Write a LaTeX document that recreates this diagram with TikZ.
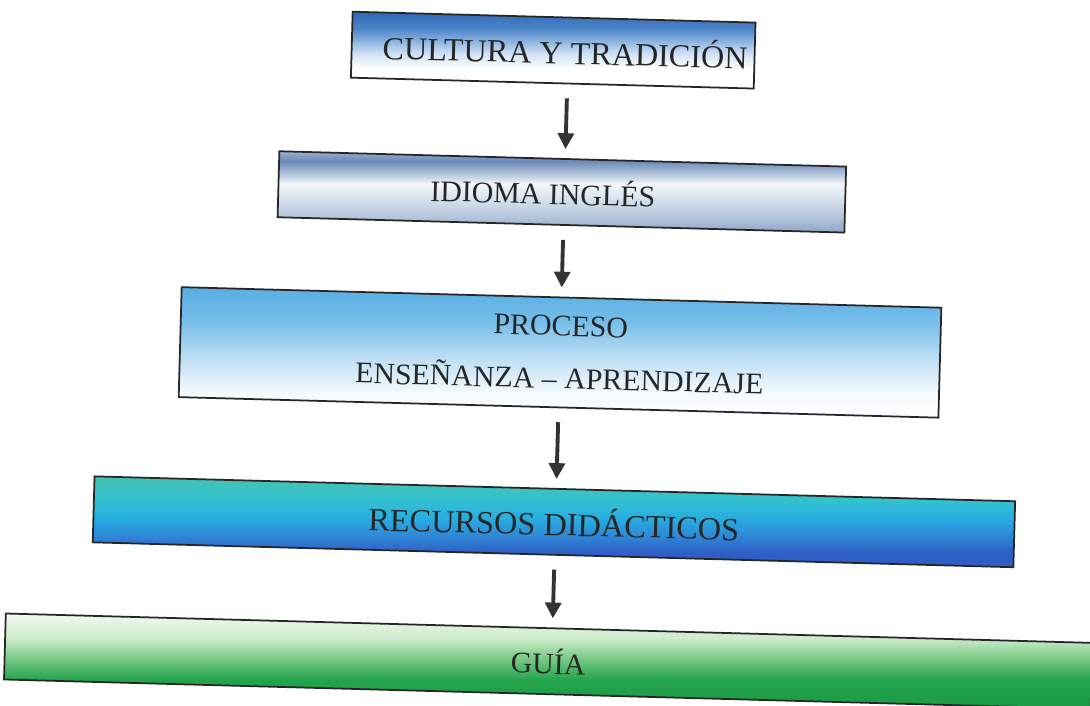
\documentclass[tikz,border=0pt]{standalone}
\usepackage{fontspec}
\setmainfont{Liberation Serif}
\usetikzlibrary{positioning,arrows.meta}

\definecolor{cultblue}{HTML}{2E68B3}
\definecolor{cultdeep}{HTML}{4D86C9}
\definecolor{cultmid}{HTML}{8AB3E0}
\definecolor{cultpale}{HTML}{CFE0F3}
\definecolor{steellow}{HTML}{8EA7C8}
\definecolor{steelpale}{HTML}{B5C6DC}
\definecolor{steellight}{HTML}{DFE7F1}
\definecolor{steelwhite}{HTML}{F3F6FA}
\definecolor{steelmid}{HTML}{A9BDD6}
\definecolor{steeldark}{HTML}{6A8BB5}
\definecolor{steeltop}{HTML}{9AB0CF}
\definecolor{skypale}{HTML}{F3F9FD}
\definecolor{skylight}{HTML}{B4DAF3}
\definecolor{skymid}{HTML}{74BDE9}
\definecolor{skytop}{HTML}{5AAEE4}
\definecolor{recblue}{HTML}{2F5FC6}
\definecolor{recmid}{HTML}{2F86D6}
\definecolor{reccyan}{HTML}{27ADE0}
\definecolor{recaqua}{HTML}{33C2D0}
\definecolor{recteal}{HTML}{45C2B0}
\definecolor{guiadark}{HTML}{1C9A45}
\definecolor{guiagreen}{HTML}{22A34C}
\definecolor{guiamid}{HTML}{7CCB88}
\definecolor{guiapale}{HTML}{CDEBCB}
\definecolor{guiatop}{HTML}{F1F9EF}

\pgfdeclareverticalshading{culturashade}{100bp}{color(0bp)=(white); color(25bp)=(white); color(38bp)=(white); color(48bp)=(cultpale); color(56bp)=(cultmid); color(64bp)=(cultdeep); color(75bp)=(cultblue); color(100bp)=(cultblue)}
\pgfdeclareverticalshading{idiomashade}{100bp}{color(0bp)=(steellow); color(25bp)=(steellow); color(35bp)=(steelpale); color(48bp)=(steellight); color(55bp)=(steelwhite); color(62bp)=(steelmid); color(69bp)=(steeldark); color(75bp)=(steeltop); color(100bp)=(steeltop)}
\pgfdeclareverticalshading{procesoshade}{100bp}{color(0bp)=(white); color(25bp)=(white); color(35bp)=(skypale); color(50bp)=(skylight); color(62bp)=(skymid); color(75bp)=(skytop); color(100bp)=(skytop)}
\pgfdeclareverticalshading{recursoshade}{100bp}{color(0bp)=(recblue); color(25bp)=(recblue); color(33bp)=(recblue); color(42bp)=(recmid); color(52bp)=(reccyan); color(62bp)=(recaqua); color(75bp)=(recteal); color(100bp)=(recteal)}
\pgfdeclareverticalshading{guiashade}{100bp}{color(0bp)=(guiadark); color(25bp)=(guiadark); color(40bp)=(guiagreen); color(52bp)=(guiamid); color(62bp)=(guiapale); color(75bp)=(guiatop); color(100bp)=(guiatop)}

\tikzset{main node/.style={rectangle,draw=black!85,line width=1pt,shade,minimum height=1.32cm,inner sep=0pt,text=black!85,font=\fontsize{17}{30}\selectfont,align=center},
  link/.style={line width=2.2pt,black!80,-{Triangle[length=9pt,width=9pt]},shorten <=0.28cm,shorten >=0.18cm},}

\begin{document}
\begin{tikzpicture}
    \useasboundingbox (0,0) rectangle (21.8,-14.12);
    \begin{scope}[rotate around={-1.55:(10.9,-7.06)},transform shape]
    \node[main node,shading=culturashade,minimum width=8.06cm,font=\fontsize{18.3}{30}\selectfont] (1) at (10.9,-1.0) {\hspace{0.48cm}CULTURA Y TRADICIÓN};
    \node[main node,shading=idiomashade,minimum width=11.34cm] (2) at (11.15,-3.83) {IDIOMA INGLÉS\hspace{0.76cm}};
    \node[main node,shading=procesoshade,minimum width=15.2cm,minimum height=2.2cm] (3) at (11.2,-7.04) {PROCESO\\ENSEÑANZA – APRENDIZAJE};
    \node[main node,shading=recursoshade,minimum width=18.42cm,font=\fontsize{18.4}{30}\selectfont] (4) at (11.17,-10.43) {RECURSOS DIDÁCTICOS};
    \node[main node,shading=guiashade,minimum width=21.74cm] (5) at (11.13,-13.22) {GUÍA};

    \path[link]
    (1.south -| 3.center) edge (2.north -| 3.center)
    (2.south -| 3.center) edge (3.north)
    (3.south) edge (4.north -| 3.center)
    (4.south -| 3.center) edge (5.north -| 3.center);
    \end{scope}
\end{tikzpicture}
\end{document}
